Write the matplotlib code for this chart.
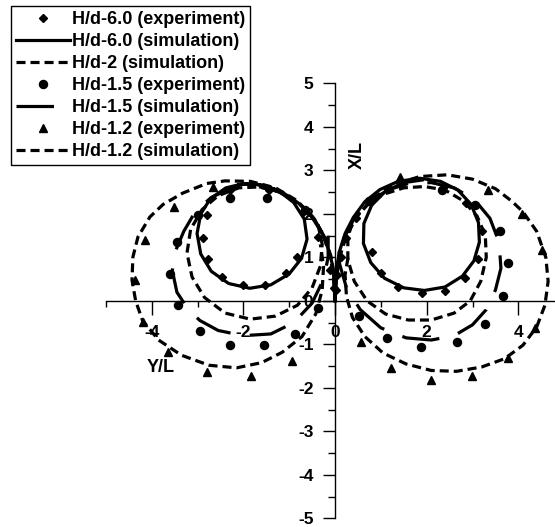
import matplotlib.pyplot as plt

plt.rcParams['font.family'] = ['Liberation Sans', 'DejaVu Sans']
plt.rcParams['font.weight'] = 'bold'
plt.rcParams['lines.scale_dashes'] = False
plt.rcParams['axes.unicode_minus'] = False

# simulation curves, right loop (Y/L > 0) and left loop (Y/L < 0)
sim60_right_x = [0.00, 0.01, 0.04, 0.10, 0.22, 0.40, 0.65, 0.98, 1.38, 1.85, 2.30, 2.68, 2.97, 3.13, 3.15, 3.03, 2.78, 2.40, 1.95, 1.50, 1.08, 0.78, 0.62, 0.63, 0.80, 1.10, 1.50, 1.90]
sim60_right_y = [0.00, 0.40, 0.80, 1.15, 1.55, 1.92, 2.28, 2.56, 2.75, 2.82, 2.75, 2.55, 2.22, 1.80, 1.35, 0.92, 0.57, 0.32, 0.24, 0.30, 0.52, 0.88, 1.32, 1.78, 2.20, 2.52, 2.72, 2.78]
sim60_left_x = [0.00, -0.01, -0.05, -0.13, -0.28, -0.50, -0.80, -1.15, -1.55, -1.98, -2.38, -2.72, -2.93, -3.01, -2.93, -2.70, -2.32, -1.86, -1.40, -1.00, -0.73, -0.61, -0.67, -0.90, -1.25, -1.70, -2.10]
sim60_left_y = [0.00, 0.40, 0.80, 1.15, 1.55, 1.92, 2.25, 2.50, 2.66, 2.70, 2.60, 2.35, 2.00, 1.55, 1.08, 0.68, 0.40, 0.29, 0.37, 0.62, 0.98, 1.42, 1.88, 2.26, 2.55, 2.68, 2.68]

sim2_right_x = [0.00, 0.02, 0.08, 0.20, 0.40, 0.70, 1.05, 1.50, 1.95, 2.40, 2.80, 3.10, 3.28, 3.30, 3.18, 2.95, 2.60, 2.10, 1.60, 1.10, 0.70, 0.42, 0.28, 0.28, 0.40]
sim2_right_y = [0.00, 0.50, 1.00, 1.45, 1.85, 2.20, 2.45, 2.60, 2.63, 2.55, 2.30, 1.95, 1.50, 1.00, 0.45, 0.00, -0.28, -0.44, -0.44, -0.30, 0.00, 0.45, 0.95, 1.45, 1.90]
sim2_left_x = [0.00, -0.02, -0.08, -0.22, -0.45, -0.78, -1.20, -1.65, -2.10, -2.55, -2.90, -3.15, -3.23, -3.12, -2.85, -2.40, -1.85, -1.30, -0.82, -0.50, -0.32, -0.28, -0.38]
sim2_left_y = [0.00, 0.50, 1.00, 1.45, 1.88, 2.25, 2.50, 2.62, 2.60, 2.42, 2.10, 1.65, 1.10, 0.55, 0.08, -0.28, -0.42, -0.35, -0.10, 0.30, 0.80, 1.30, 1.80]

sim15_right_x = [0.00, 0.02, 0.08, 0.20, 0.42, 0.75, 1.15, 1.60, 2.10, 2.60, 3.05, 3.38, 3.58, 3.62, 3.50, 3.30, 3.00, 2.60, 2.10, 1.55, 1.00, 0.55, 0.25, 0.10, 0.08]
sim15_right_y = [0.00, 0.50, 1.00, 1.45, 1.90, 2.28, 2.55, 2.70, 2.72, 2.60, 2.32, 1.90, 1.35, 0.75, 0.25, -0.20, -0.55, -0.80, -0.90, -0.85, -0.62, -0.20, 0.30, 0.85, 1.40]
sim15_left_x = [0.00, -0.02, -0.08, -0.22, -0.45, -0.80, -1.25, -1.75, -2.25, -2.70, -3.05, -3.30, -3.48, -3.55, -3.45, -3.20, -2.95, -2.55, -2.00, -1.40, -0.90, -0.50, -0.25, -0.15, -0.15]
sim15_left_y = [0.00, 0.50, 1.00, 1.45, 1.88, 2.25, 2.52, 2.65, 2.60, 2.38, 2.05, 1.60, 1.15, 0.70, 0.20, -0.20, -0.45, -0.68, -0.80, -0.76, -0.50, -0.05, 0.50, 1.00, 1.50]

sim12_right_x = [0.00, 0.03, 0.10, 0.25, 0.50, 0.85, 1.30, 1.85, 2.45, 3.00, 3.50, 3.85, 4.10, 4.40, 4.60, 4.65, 4.58, 4.40, 4.10, 3.70, 3.20, 2.65, 2.10, 1.55, 1.05, 0.65, 0.38, 0.25, 0.22, 0.30]
sim12_right_y = [0.00, 0.50, 1.00, 1.50, 1.98, 2.38, 2.68, 2.86, 2.90, 2.80, 2.58, 2.30, 2.05, 1.60, 1.00, 0.45, -0.10, -0.60, -1.02, -1.33, -1.52, -1.62, -1.60, -1.45, -1.20, -0.82, -0.38, 0.10, 0.60, 1.10]
sim12_left_x = [0.00, -0.03, -0.10, -0.25, -0.50, -0.85, -1.30, -1.85, -2.40, -2.80, -3.32, -3.75, -4.04, -4.30, -4.41, -4.43, -4.35, -4.20, -3.85, -3.35, -2.75, -2.15, -1.60, -1.15, -0.72, -0.42, -0.28, -0.25, -0.32]
sim12_left_y = [0.00, 0.50, 1.00, 1.50, 1.95, 2.32, 2.60, 2.75, 2.76, 2.70, 2.48, 2.22, 1.93, 1.47, 1.01, 0.48, 0.00, -0.45, -0.90, -1.25, -1.48, -1.54, -1.42, -1.18, -0.82, -0.30, 0.25, 0.80, 1.30]

# experiment points
exp60_x = [0.02, 0.05, 0.12, 0.25, 0.45, 0.75, 1.45, 2.35, 2.85, 3.20, 3.12, 2.84, 2.40, 1.90, 1.38, 1.00, 0.81,
           -0.02, -0.10, -0.37, -0.70, -1.45, -2.30, -2.80, -2.88, -2.77, -2.47, -2.00, -1.53, -1.07, -0.83]
exp60_y = [0.25, 0.60, 1.00, 1.45, 1.90, 2.30, 2.68, 2.60, 2.25, 1.60, 0.97, 0.53, 0.23, 0.18, 0.32, 0.64, 1.13,
           0.30, 0.70, 1.47, 2.05, 2.55, 2.55, 1.98, 1.45, 0.97, 0.55, 0.37, 0.37, 0.64, 1.01]

exp15_x = [0.52, 1.13, 1.87, 2.66, 3.28, 3.67, 3.78, 3.60, 3.06, 2.34, 0.75,
           -3.60, -3.43, -2.95, -2.29, -1.55, -0.87, -0.37, -3.45, -3.00, -2.29, -1.48, -0.66]
exp15_y = [-0.34, -0.85, -1.05, -0.94, -0.53, 0.11, 0.87, 1.61, 2.21, 2.55, 2.30,
           0.61, -0.10, -0.69, -1.01, -1.01, -0.76, -0.16, 1.36, 1.98, 2.37, 2.37, 2.09]

exp12_x = [0.57, 1.22, 2.10, 2.99, 3.78, 4.37, 4.52, 4.08, 3.34, 1.42,
           -2.66, -3.52, -4.15, -4.37, -4.19, -3.65, -2.80, -1.83, -0.94]
exp12_y = [-0.94, -1.54, -1.82, -1.72, -1.31, -0.62, 1.17, 2.00, 2.55, 2.85,
           2.62, 2.16, 1.40, 0.48, -0.48, -1.17, -1.63, -1.72, -1.38]

y_ticks = [-5, -4, -3, -2, -1, 0, 1, 2, 3, 4, 5]
x_ticks = [-4, -2, 0, 2, 4]

short_dash = (0, (6.5, 3.6))
long_dash = (0, (27, 14))

fig = plt.figure(figsize=(5.55, 5.27), dpi=100)
ax = fig.add_axes([0, 0, 1, 1])
ax.set_xlim(-7.31, 4.80)
ax.set_ylim(-5.2, 6.92)

lw = 2.3
h1, = ax.plot(exp60_x, exp60_y, 'D', color='black', markersize=4.2, linestyle='none', label='H/d-6.0 (experiment)')
h2, = ax.plot(sim60_right_x, sim60_right_y, color='black', lw=lw, label='H/d-6.0 (simulation)')
ax.plot(sim60_left_x, sim60_left_y, color='black', lw=lw)
h3, = ax.plot(sim2_right_x, sim2_right_y, color='black', lw=lw, linestyle=short_dash, label='H/d-2 (simulation)')
ax.plot(sim2_left_x, sim2_left_y, color='black', lw=lw, linestyle=short_dash)
h4, = ax.plot(exp15_x, exp15_y, 'o', color='black', markersize=5.8, linestyle='none', label='H/d-1.5 (experiment)')
h5, = ax.plot(sim15_right_x, sim15_right_y, color='black', lw=lw, linestyle=long_dash, label='H/d-1.5 (simulation)')
ax.plot(sim15_left_x, sim15_left_y, color='black', lw=lw, linestyle=long_dash)
h6, = ax.plot(exp12_x, exp12_y, '^', color='black', markersize=5.8, linestyle='none', label='H/d-1.2 (experiment)')
h7, = ax.plot(sim12_right_x, sim12_right_y, color='black', lw=lw, linestyle=short_dash, label='H/d-1.2 (simulation)')
ax.plot(sim12_left_x, sim12_left_y, color='black', lw=lw, linestyle=short_dash)

ax.spines['top'].set_visible(False)
ax.spines['right'].set_visible(False)
ax.spines['left'].set_position(('data', 0))
ax.spines['bottom'].set_position(('data', 0))
ax.spines['left'].set_bounds(-5, 5)
ax.spines['bottom'].set_bounds(-5, 4.8)
ax.spines['left'].set_linewidth(1)
ax.spines['bottom'].set_linewidth(1)

ax.set_yticks(y_ticks)
ax.set_yticks([v + 0.5 for v in y_ticks[:-1]], minor=True)
ax.set_xticks(x_ticks)
ax.set_xticks([-5, -3, -1, 1, 3], minor=True)
ax.tick_params(axis='y', which='major', direction='out', length=8.5, width=1, pad=7, labelsize=12.5)
ax.tick_params(axis='y', which='minor', direction='out', length=5, width=1)
ax.tick_params(axis='x', which='major', direction='out', length=10, width=1, pad=7, labelsize=12.5)
ax.tick_params(axis='x', which='minor', direction='out', length=4.5, width=1)
for lab in ax.get_xticklabels() + ax.get_yticklabels():
    lab.set_fontweight('bold')

ax.text(0.48, 3.36, 'X/L', rotation=90, fontsize=13, fontweight='bold', ha='center', va='center')
ax.text(-3.8, -1.54, 'Y/L', fontsize=13, fontweight='bold', ha='center', va='center')

leg = ax.legend(handles=[h1, h2, h3, h4, h5, h6, h7], loc='upper left',
                bbox_to_anchor=(11 / 555, 1 - 6 / 527), bbox_transform=fig.transFigure,
                borderaxespad=0, fancybox=False, framealpha=1, edgecolor='black',
                prop={'size': 13, 'weight': 'bold'}, handlelength=3.0, handletextpad=0.1,
                labelspacing=0.28, borderpad=0.28, numpoints=1)
leg.get_frame().set_linewidth(1)

plt.savefig('out.png', dpi=100)
